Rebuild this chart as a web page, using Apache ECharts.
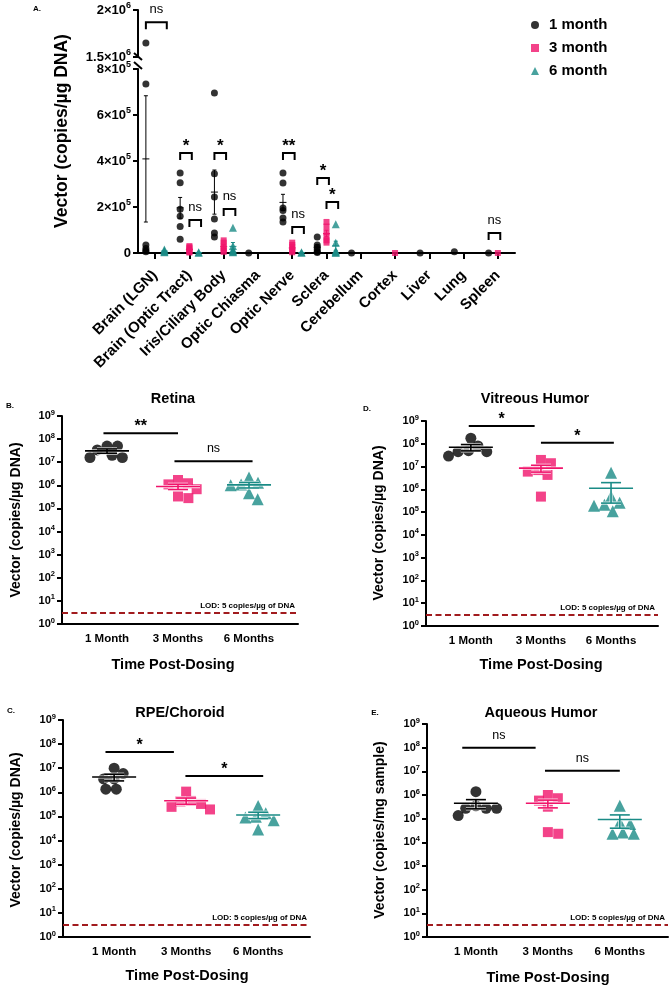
<!DOCTYPE html>
<html>
<head>
<meta charset="utf-8">
<title>Vector biodistribution</title>
<script src="https://cdn.jsdelivr.net/npm/echarts@6.0.0/dist/echarts.min.js"></script>
<style>
  html, body { margin: 0; padding: 0; background: #fff; }
  #chart { width: 672px; height: 991px; }
</style>
</head>
<body>
<div id="chart"></div>
<script>
// ---- panel A: tissues, copies/ug DNA ----
const tissues = ['Brain (LGN)', 'Brain (Optic Tract)', 'Iris/Ciliary Body', 'Optic Chiasma', 'Optic Nerve',
  'Sclera', 'Cerebellum', 'Cortex', 'Liver', 'Lung', 'Spleen'];
const monthNames = ['1 month', '3 month', '6 month'];
const tissue1m = [
  [1.65e6, 7.35e5, 3.5e4, 2e4, 1e4, 5e3],
  [3.48e5, 3.05e5, 1.9e5, 1.6e5, 1.15e5, 6e4],
  [6.96e5, 3.45e5, 2.43e5, 1.48e5, 8.7e4, 7e4],
  [0],
  [3.48e5, 3.04e5, 1.96e5, 1.85e5, 1.52e5, 1.35e5],
  [7e4, 3.5e4, 2.5e4, 1.5e4, 5e3, 2e3],
  [0], [], [0], [5e3], [0]
];
const tissue3m = [
  [],
  [3e4, 2.5e4, 2e4, 1e4, 5e3, 2e3],
  [5.5e4, 4.5e4, 3e4, 2e4, 1e4, 5e3],
  [],
  [4.5e4, 3.5e4, 2.5e4, 1.5e4, 8e3, 3e3],
  [1.35e5, 1.15e5, 9e4, 7e4, 5.5e4, 4.5e4],
  [], [0], [], [], [0]
];
const tissue6m = [
  [1.5e4, 1e4, 5e3, 3e3],
  [3e3, 1e3],
  [1.1e5, 3e4, 1.5e4, 1e4, 5e3, 3e3],
  [],
  [3e3, 1e3],
  [1.25e5, 4.5e4, 1e4, 5e3, 2e3, 1e3],
  [], [], [], [], []
];
const ticksAUpper = [1.5e6, 2e6];
const ticksALower = [0, 2e5, 4e5, 6e5, 8e5];
// tissue index, from group, to group, bracket value, text
const bracketsA = [
  [0, 0, 2, 1.87e6, 'ns'],
  [1, 0, 1, 4.35e5, '*'],
  [1, 1, 2, 1.43e5, 'ns'],
  [2, 0, 1, 4.35e5, '*'],
  [2, 1, 2, 1.91e5, 'ns'],
  [4, 0, 1, 4.35e5, '**'],
  [4, 1, 2, 1.13e5, 'ns'],
  [5, 0, 1, 3.26e5, '*'],
  [5, 1, 2, 2.22e5, '*'],
  [10, 0, 1, 8.7e4, 'ns']
];

// ---- panels B-E: ocular tissues ----
const timeLabels = ['1 Month', '3 Months', '6 Months'];
const logTicks = [1, 10, 100, 1e3, 1e4, 1e5, 1e6, 1e7, 1e8, 1e9];
const lodLine = 3.2;
const lodText = 'LOD: 5 copies/µg of DNA';
const retina = [
  [5e7, 1.6e7, 3.4e7, 1.6e7, 5e7, 2e7],
  [1.7e6, 2.8e5, 1.1e6, 6.8e5, 1.23e6, 3.3e5],
  [2.2e6, 1.02e6, 1.28e6, 1.1e6, 2.5e5, 4.5e5]
];
const vitreous = [
  [8e7, 2.9e7, 5e7, 1.75e8, 4.5e7, 4.5e7],
  [1.95e7, 7e6, 1.4e7, 4.3e6, 6e6, 4.8e5],
  [4.8e5, 1.1e5, 2.6e5, 5.4e6, 2.1e5, 1.9e5]
];
const rpe = [
  [3.6e6, 6e6, 1e7, 3.6e6, 1.35e6, 1.35e6],
  [1.95e5, 1.07e6, 4.4e5, 4.2e5, 2.5e5, 3.3e5],
  [9.1e4, 1.35e5, 2.7e5, 9.7e4, 2.9e4, 7e4]
];
const aqueous = [
  [3.5e5, 1.35e5, 2.75e5, 1.38e6, 2.75e5, 2.75e5],
  [7.3e5, 1e6, 5.8e5, 3.2e5, 2.3e4, 2.7e4],
  [6e4, 2.3e4, 3.5e5, 2.6e4, 6.9e4, 2.3e4]
];
// x from, x to, line value, text
const retinaSig = [[-0.05, 1.0, 1.8e8, '**'], [0.95, 2.05, 1.1e7, 'ns']];
const vitreousSig = [[-0.03, 0.91, 6e8, '*'], [1.0, 2.04, 1.1e8, '*']];
const rpeSig = [[-0.12, 0.83, 4.7e7, '*'], [0.99, 2.07, 4.8e6, '*']];
const aqueousSig = [[-0.19, 0.83, 1e8, 'ns'], [0.96, 2.0, 1.05e7, 'ns']];

const FONT = '"Liberation Sans", Arial, sans-serif';
const groupColors = ['#000000', '#F0146B', '#1A8B86'];
const groupSymbols = ['circle', 'rect', 'triangle'];
const LOD_RED = '#A11B1E';

const chart = echarts.init(document.getElementById('chart'));

function stats(vals) {
  const n = vals.length;
  const m = vals.reduce((a, b) => a + b, 0) / n;
  const sd = Math.sqrt(vals.reduce((a, b) => a + (b - m) * (b - m), 0) / (n - 1));
  return [m, sd / Math.sqrt(n)];
}

function seg(s, color, w) {
  return { type: 'line', shape: { x1: s[0], y1: s[1], x2: s[2], y2: s[3] }, style: { stroke: color, lineWidth: w } };
}

function errorBarRenderer(meanHalf, capHalf, width, halo) {
  return function (params, api) {
    const x = api.value(0), m = api.value(1), s = api.value(2), g = api.value(3), floor = api.value(4);
    const c = api.coord([x, m]);
    const hi = api.coord([x, m + s]);
    const lo = api.coord([x, Math.max(m - s, floor)]);
    const segs = [
      [c[0] - meanHalf, c[1], c[0] + meanHalf, c[1]],
      [c[0], hi[1], c[0], lo[1]],
      [c[0] - capHalf, hi[1], c[0] + capHalf, hi[1]],
      [c[0] - capHalf, lo[1], c[0] + capHalf, lo[1]]
    ];
    const children = [];
    if (halo) segs.forEach(sg => children.push(seg(sg, 'rgba(255,255,255,0.8)', width + 1.6)));
    segs.forEach(sg => children.push(seg(sg, groupColors[g], width)));
    return { type: 'group', children };
  };
}

function sigRenderer(items, legs, starSize, nsSize) {
  return function (params, api) {
    const b = items[params.dataIndex];
    const p1 = api.coord([api.value(0), api.value(2)]);
    const p2 = api.coord([api.value(1), api.value(2)]);
    const star = b.text.indexOf('*') >= 0;
    const pts = legs ? [[p1[0], p1[1] + legs], p1, p2, [p2[0], p2[1] + legs]] : [p1, p2];
    const ty = p1[1] - (star ? 6.5 : 12.5);
    return {
      type: 'group',
      children: [
        { type: 'polyline', shape: { points: pts }, style: { stroke: '#000', lineWidth: 2, fill: null } },
        {
          type: 'text', x: (p1[0] + p2[0]) / 2, y: ty,
          style: {
            text: b.text, fill: '#000',
            font: star ? ('bold ' + starSize + 'px ' + FONT) : (nsSize + 'px ' + FONT),
            align: 'center', verticalAlign: 'middle', textAlign: 'center', textVerticalAlign: 'middle'
          }
        }
      ]
    };
  };
}

function sciLabel(v) {
  if (v === 0) return '{b|0}';
  const e = Math.floor(Math.log10(v) + 1e-9);
  const mant = Math.round(v / Math.pow(10, e) * 10) / 10;
  return '{b|' + mant + '×10}{s|' + e + '}';
}
function logLabel(v) {
  return '{b|10}{s|' + Math.round(Math.log10(v)) + '}';
}
function richLabel(size, supSize) {
  return {
    b: { fontFamily: FONT, fontWeight: 'bold', fontSize: size, lineHeight: size + 4, color: '#000' },
    s: { fontFamily: FONT, fontWeight: 'bold', fontSize: supSize, lineHeight: supSize + 1, verticalAlign: 'top', color: '#000' }
  };
}
const axisLineStyle = { show: true, onZero: false, lineStyle: { color: '#000', width: 2 } };
const tickStyle = { show: true, length: 5, lineStyle: { color: '#000', width: 2 } };

// ---------- panel A ----------
const offA = [-0.27, 0, 0.27];
const symA = [7, 6, 8];
const grids = [
  { left: 138, top: 10, width: 377, height: 47 },
  { left: 138, top: 69, width: 377, height: 184 }
];
const xAxes = [
  { gridIndex: 0, type: 'value', min: -0.5, max: 10.5, show: false },
  {
    gridIndex: 1, type: 'category', data: tissues, boundaryGap: true,
    axisLine: axisLineStyle,
    axisTick: { show: true, alignWithLabel: true, length: 6, lineStyle: { color: '#000', width: 2 } },
    axisLabel: { interval: 0, rotate: 45, margin: 20, color: '#000', fontFamily: FONT, fontWeight: 'bold', fontSize: 15 }
  },
  { gridIndex: 1, type: 'value', min: -0.5, max: 10.5, show: false }
];
const yAxes = [
  {
    gridIndex: 0, type: 'value', min: ticksAUpper[0], max: ticksAUpper[ticksAUpper.length - 1],
    axisLine: axisLineStyle, axisTick: Object.assign({ customValues: ticksAUpper }, tickStyle), splitLine: { show: false },
    axisLabel: { customValues: ticksAUpper, formatter: sciLabel, rich: richLabel(13, 9), margin: 7 }
  },
  {
    gridIndex: 1, type: 'value', min: ticksALower[0], max: ticksALower[ticksALower.length - 1],
    axisLine: axisLineStyle, axisTick: Object.assign({ customValues: ticksALower }, tickStyle), splitLine: { show: false },
    axisLabel: { customValues: ticksALower, formatter: sciLabel, rich: richLabel(13, 9), margin: 7 }
  }
];
const series = [];
const errA = [];
[tissue1m, tissue3m, tissue6m].forEach((arr, g) => {
  const upper = [], lower = [];
  arr.forEach((vals, t) => {
    vals.forEach(v => (v >= ticksAUpper[0] ? upper : lower).push([t + offA[g], v]));
    if (vals.length > 1) {
      const st = stats(vals);
      errA.push([t + offA[g], st[0], st[1], g, 0]);
    }
  });
  const common = { name: monthNames[g], type: 'scatter', symbol: groupSymbols[g], symbolSize: symA[g], itemStyle: { color: groupColors[g] }, z: 3 };
  series.push(Object.assign({ xAxisIndex: 0, yAxisIndex: 0, data: upper }, common));
  series.push(Object.assign({ xAxisIndex: 2, yAxisIndex: 1, data: lower }, common));
});
series.push({
  type: 'custom', xAxisIndex: 2, yAxisIndex: 1, data: errA, z: 4, silent: true,
  renderItem: errorBarRenderer(3.5, 2, 1, false)
});
const brUpper = [], brLower = [];
bracketsA.forEach(b => {
  const item = { x1: b[0] + offA[b[1]], x2: b[0] + offA[b[2]] + 0.07, y: b[3], text: b[4] };
  (b[3] >= ticksAUpper[0] ? brUpper : brLower).push(item);
});
series.push({
  type: 'custom', xAxisIndex: 0, yAxisIndex: 0, z: 5, silent: true, clip: false,
  data: brUpper.map(b => [b.x1, b.x2, b.y]), renderItem: sigRenderer(brUpper, 7, 17, 13)
});
series.push({
  type: 'custom', xAxisIndex: 2, yAxisIndex: 1, z: 5, silent: true, clip: false,
  data: brLower.map(b => [b.x1, b.x2, b.y]), renderItem: sigRenderer(brLower, 7, 17, 13)
});

// ---------- panels B-E ----------
const panels = [
  { letter: 'B.', title: 'Retina', data: retina, sig: retinaSig, yName: 'Vector (copies/µg DNA)',
    grid: { left: 62, top: 416, width: 236, height: 208 }, xr: [-0.634, 2.69],
    letterPos: [10, 406], titlePos: [173, 399], yNamePos: [16, 520], xNamePos: [173, 665] },
  { letter: 'D.', title: 'Vitreous Humor', data: vitreous, sig: vitreousSig, yName: 'Vector (copies/µg DNA)',
    grid: { left: 426, top: 421, width: 232, height: 205 }, xr: [-0.64, 2.67],
    letterPos: [367, 409], titlePos: [535, 399], yNamePos: [379, 523], xNamePos: [541, 665] },
  { letter: 'C.', title: 'RPE/Choroid', data: rpe, sig: rpeSig, yName: 'Vector (copies/µg DNA)',
    grid: { left: 63, top: 720, width: 247, height: 217 }, xr: [-0.71, 2.72],
    letterPos: [11, 711], titlePos: [180, 713], yNamePos: [16, 830], xNamePos: [187, 976] },
  { letter: 'E.', title: 'Aqueous Humor', data: aqueous, sig: aqueousSig, yName: 'Vector (copies/mg sample)',
    grid: { left: 427, top: 724, width: 241, height: 213 }, xr: [-0.68, 2.67],
    letterPos: [375, 713], titlePos: [541, 713], yNamePos: [380, 830], xNamePos: [548, 978] }
];
const symLow = [11, 10, 12];
const graphics = [
  { type: 'text', x: 37, y: 9, style: { text: 'A.', font: 'bold 8px ' + FONT, fill: '#000', align: 'center', verticalAlign: 'middle', textAlign: 'center', textVerticalAlign: 'middle' } },
  { type: 'text', x: 62, y: 131, rotation: Math.PI / 2, style: { text: 'Vector (copies/µg DNA)', font: 'bold 17.5px ' + FONT, fill: '#000', align: 'center', verticalAlign: 'middle', textAlign: 'center', textVerticalAlign: 'middle' } },
  { type: 'line', shape: { x1: 134, y1: 53, x2: 142, y2: 60 }, style: { stroke: '#000', lineWidth: 2 } },
  { type: 'line', shape: { x1: 134, y1: 62, x2: 142, y2: 69 }, style: { stroke: '#000', lineWidth: 2 } }
];
function txt(x, y, text, font, rot) {
  return { type: 'text', x, y, rotation: rot || 0, style: { text, font, fill: '#000', align: 'center', verticalAlign: 'middle', textAlign: 'center', textVerticalAlign: 'middle' } };
}
panels.forEach((p, pi) => {
  const gi = grids.length;
  grids.push(p.grid);
  const xi = xAxes.length, yi = yAxes.length;
  xAxes.push({
    gridIndex: gi, type: 'value', min: p.xr[0], max: p.xr[1], splitLine: { show: false },
    axisLine: axisLineStyle, axisTick: { show: false },
    axisLabel: { customValues: [0, 1, 2], formatter: v => timeLabels[Math.round(v)], margin: 9, color: '#000', fontFamily: FONT, fontWeight: 'bold', fontSize: 11.5 }
  });
  yAxes.push({
    gridIndex: gi, type: 'log', logBase: 10, min: logTicks[0], max: logTicks[logTicks.length - 1],
    axisLine: axisLineStyle, axisTick: Object.assign({ customValues: logTicks }, tickStyle),
    splitLine: { show: false }, minorTick: { show: false },
    axisLabel: { customValues: logTicks, formatter: logLabel, rich: richLabel(11, 7.5), margin: 7 }
  });
  const err = [];
  p.data.forEach((vals, g) => {
    const st = stats(vals);
    err.push([g, st[0], st[1], g, st[0] * 0.02]);
    const s = {
      id: 'p' + pi + 'g' + g, name: p.title + ' ' + timeLabels[g], type: 'scatter', xAxisIndex: xi, yAxisIndex: yi,
      symbol: groupSymbols[g], symbolSize: symLow[g], itemStyle: { color: groupColors[g] }, z: 3,
      data: vals.map(v => [g, v])
    };
    if (g === 0) {
      s.markLine = {
        silent: true, symbol: 'none', animation: false,
        lineStyle: { type: [6, 3.5], color: LOD_RED, width: 2 },
        label: { show: true, position: 'insideEndTop', formatter: lodText, color: '#000', fontFamily: FONT, fontWeight: 'bold', fontSize: 8, distance: 3 },
        data: [{ yAxis: lodLine }]
      };
    }
    series.push(s);
  });
  series.push({ type: 'custom', xAxisIndex: xi, yAxisIndex: yi, data: err, z: 4, silent: true, renderItem: errorBarRenderer(22, 10, 1.6, true) });
  const sigItems = p.sig.map(s => ({ text: s[3] }));
  series.push({
    type: 'custom', xAxisIndex: xi, yAxisIndex: yi, z: 5, silent: true, clip: false,
    data: p.sig.map(s => [s[0], s[1], s[2]]), renderItem: sigRenderer(sigItems, 0, 16, 12.5)
  });
  graphics.push(txt(p.letterPos[0], p.letterPos[1], p.letter, 'bold 8px ' + FONT));
  graphics.push(txt(p.titlePos[0], p.titlePos[1], p.title, 'bold 14.5px ' + FONT));
  graphics.push(txt(p.yNamePos[0], p.yNamePos[1], p.yName, 'bold 14px ' + FONT, Math.PI / 2));
  graphics.push(txt(p.xNamePos[0], p.xNamePos[1], 'Time Post-Dosing', 'bold 14.5px ' + FONT));
});

chart.setOption({
  animation: false,
  backgroundColor: '#fff',
  grid: grids,
  xAxis: xAxes,
  yAxis: yAxes,
  legend: {
    data: [{ name: '1 month', icon: 'circle' }, { name: '3 month', icon: 'rect' }, { name: '6 month', icon: 'triangle' }],
    orient: 'vertical', left: 526, top: 12, itemWidth: 8, itemHeight: 8, itemGap: 7, selectedMode: false,
    textStyle: { fontFamily: FONT, fontWeight: 'bold', fontSize: 15, lineHeight: 16, color: '#000', padding: [0, 0, 0, 5] }
  },
  graphic: graphics,
  series: series
});

// spread the dots of each group sideways (beeswarm) using the axes' pixel scale
function swarm(ys, d) {
  const order = ys.map((y, i) => i).sort((a, b) => ys[a] - ys[b]);
  const placed = [];
  const out = new Array(ys.length);
  order.forEach(i => {
    const y = ys[i];
    const cands = [0];
    placed.forEach(q => {
      const dy = Math.abs(q.y - y);
      if (dy < d) {
        const w = Math.sqrt(d * d - dy * dy);
        cands.push(q.x + w, q.x - w);
      }
    });
    cands.sort((a, b) => Math.abs(a) - Math.abs(b));
    const x = cands.find(c => placed.every(q => (q.x - c) * (q.x - c) + (q.y - y) * (q.y - y) >= d * d - 0.01));
    placed.push({ x, y });
    out[i] = x;
  });
  return out;
}
const updates = [];
panels.forEach((p, pi) => {
  p.data.forEach((vals, g) => {
    const id = 'p' + pi + 'g' + g;
    const px = vals.map(v => chart.convertToPixel({ seriesId: id }, [g, v]));
    const unit = chart.convertToPixel({ seriesId: id }, [g + 1, vals[0]])[0] - px[0][0];
    const dx = swarm(px.map(q => q[1]), 10.5);
    updates.push({ id, data: vals.map((v, i) => [g + dx[i] / unit, v]) });
  });
});
chart.setOption({ series: updates });
</script>
</body>
</html>
